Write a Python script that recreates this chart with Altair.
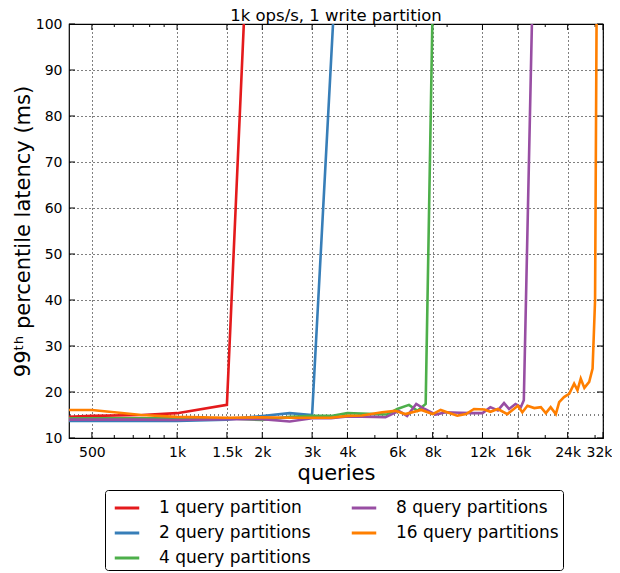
import altair as alt
import pandas as pd

# ---------------- data ----------------
series_names = ["1 query partition", "2 query partitions", "4 query partitions",
                "8 query partitions", "16 query partitions"]
series_colors = ["#e41a1c", "#377eb8", "#4daf4a", "#984ea3", "#ff7f00"]

q1 = [415, 500, 750, 1000, 1500, 1750]
v1 = [14.6, 14.8, 15.0, 15.4, 17.2, 110]

q2 = [415, 500, 750, 1000, 1500, 2000, 2500, 3000, 3600]
v2 = [13.7, 13.7, 13.7, 13.7, 14.0, 14.8, 15.4, 15.0, 106]

q4 = [415, 500, 750, 1000, 1500, 2000, 2500, 3000, 3500, 4000, 5000, 5500,
      6000, 6600, 7070, 7560, 8000]
v4 = [14.3, 14.3, 14.3, 14.3, 14.3, 13.9, 14.6, 14.8, 14.8, 15.4, 15.2, 15.1,
      16.3, 17.2, 15.9, 17.4, 104]

q8 = [415, 500, 750, 1000, 1500, 2000, 2500, 3000, 3500, 4000, 5000, 5450,
      6080, 6500, 7000, 7500, 8200, 8900, 10000, 11000, 12000, 12800, 13600,
      14300, 14900, 15700, 16400, 16800, 18000]
v8 = [14.0, 14.0, 14.0, 13.9, 14.1, 14.1, 13.6, 14.3, 14.3, 14.7, 14.6, 14.5,
      15.9, 14.8, 17.4, 16.3, 15.1, 15.6, 15.5, 15.4, 15.4, 16.7, 16.0,
      17.6, 16.3, 17.4, 16.7, 18.2, 104]

q16 = [415, 500, 750, 1000, 1500, 2000, 2500, 3000, 3500, 4000, 4500, 5300,
       5900, 6400, 7300, 8000, 8540, 9000, 9780, 10500, 11200, 12200, 12800,
       13600, 14700, 16000, 16600, 17300, 18300, 19300, 20100, 20900, 21800,
       22400, 23300, 24300, 25300, 26000, 26700, 27500, 28600, 29400, 30000,
       30400]
v16 = [16.1, 16.1, 15.0, 14.6, 14.4, 14.5, 14.4, 14.4, 14.4, 14.8, 14.9, 15.6,
       15.9, 15.2, 16.1, 15.2, 16.1, 15.6, 14.85, 15.2, 16.3, 16.2, 15.7,
       16.3, 15.2, 17.0, 15.6, 17.0, 16.5, 16.7, 15.4, 16.7, 15.2,
       17.8, 18.9, 19.6, 21.8, 20.4, 22.9, 20.9, 22.2, 25.1, 40,
       106]

x_tick_values = [500, 1000, 1500, 2000, 3000, 4000, 6000, 8000, 12000, 16000, 24000, 32000]
x_tick_labels = ["500", "1k", "1.5k", "2k", "3k", "4k", "6k", "8k", "12k", "16k", "24k", "32k"]
x_minor_values = [600, 700, 800, 900, 5000, 7000, 9000, 20000, 30000]
y_tick_values = [10, 20, 30, 40, 50, 60, 70, 80, 90, 100]
ref_line = [15]

x_domain = [415, 32000]
y_domain = [10, 100]

title_text = "1k ops/s, 1 write partition"
x_title = "queries"
y_title = "99ᵗʰ percentile latency (ms)"

# ---------------- tables ----------------
rows = []
for name, qs, vs in zip(series_names, [q1, q2, q4, q8, q16], [v1, v2, v4, v8, v16]):
    for i, (q, v) in enumerate(zip(qs, vs)):
        rows.append({"series": name, "q": q, "v": v, "order": i})
df = pd.DataFrame(rows)

label_expr = "''"
for v, l in reversed(list(zip(x_tick_values, x_tick_labels))):
    label_expr = f"abs(datum.value - {v}) < 1 ? '{l}' : ({label_expr})"

W, H = 534, 414
FONT = "DejaVu Sans"

xscale = alt.Scale(type="log", domain=x_domain)
yscale = alt.Scale(domain=y_domain)

lines = alt.Chart(df).mark_line(clip=True, strokeWidth=2.6).encode(
    x=alt.X("q:Q", scale=xscale, title=x_title,
            axis=alt.Axis(values=x_tick_values, labelExpr=label_expr, grid=True,
                          ticks=False, domain=False, labelFontSize=14,
                          labelColor="black", labelPadding=7, titleFontSize=21,
                          titleFontWeight="normal", titleColor="black",
                          titlePadding=3, gridDash=[1, 3], gridColor="black",
                          gridWidth=1, gridOpacity=1, labelFlush=False,
                          labelOverlap=False,
                          labelOffset={"condition": {"test": "datum.value > 30000", "value": -4},
                                       "value": 0})),
    y=alt.Y("v:Q", scale=yscale, title=y_title,
            axis=alt.Axis(values=y_tick_values, grid=True, ticks=False,
                          domain=False, labelFontSize=14, labelColor="black",
                          labelPadding=7, titleFontSize=21,
                          titleFontWeight="normal", titleColor="black",
                          titlePadding=2, gridDash=[1, 3], gridColor="black",
                          gridWidth=1, gridOpacity=1)),
    color=alt.Color("series:N",
                    scale=alt.Scale(domain=series_names, range=series_colors),
                    legend=alt.Legend(title=None, orient="none", legendX=36,
                                      legendY=466, columns=2, direction="vertical",
                                      symbolType="stroke", symbolSize=600,
                                      symbolStrokeWidth=3, symbolOffset=4,
                                      labelFontSize=17,
                                      labelColor="black", labelLimit=400,
                                      labelOffset=18, columnPadding=34,
                                      rowPadding=3, padding=4,
                                      strokeColor="black", fillColor="white",
                                      cornerRadius=3)),
    detail="series:N",
    order="order:Q",
)

ref = alt.Chart(pd.DataFrame({"y": ref_line})).mark_rule(
    color="black", strokeDash=[1, 3], strokeWidth=1
).encode(y=alt.Y("y:Q", scale=yscale))

xt = pd.DataFrame({"x": x_tick_values})
xm = pd.DataFrame({"x": x_minor_values})
yt = pd.DataFrame({"y": y_tick_values})

def xticks(data, y0, y1):
    return alt.Chart(data).mark_rule(color="black", strokeWidth=1).encode(
        x=alt.X("x:Q", scale=xscale), y=alt.value(y0), y2=alt.value(y1))

def yticks(x0, x1):
    return alt.Chart(yt).mark_rule(color="black", strokeWidth=1).encode(
        y=alt.Y("y:Q", scale=yscale), x=alt.value(x0), x2=alt.value(x1))

ticks = [xticks(xt, H, H - 6), xticks(xt, 0, 6), xticks(xm, H, H - 3),
         xticks(xm, 0, 3), yticks(0, 6), yticks(W, W - 6)]

chart = alt.layer(ref, *ticks, lines).properties(
    width=W, height=H,
    title=alt.TitleParams(title_text, fontSize=16.5, fontWeight="normal",
                          font=FONT, color="black", offset=0, dy=7,
                          anchor="middle"),
    autosize=alt.AutoSizeParams(type="none"),
    padding={"left": 61, "top": 16, "right": 9, "bottom": 135},
).configure(font=FONT).configure_view(
    stroke="black", strokeWidth=1.2
).configure_axis(labelFont=FONT, titleFont=FONT).configure_legend(
    labelFont=FONT
)

chart.save("out.html", embed_options={"renderer": "svg", "actions": False})
